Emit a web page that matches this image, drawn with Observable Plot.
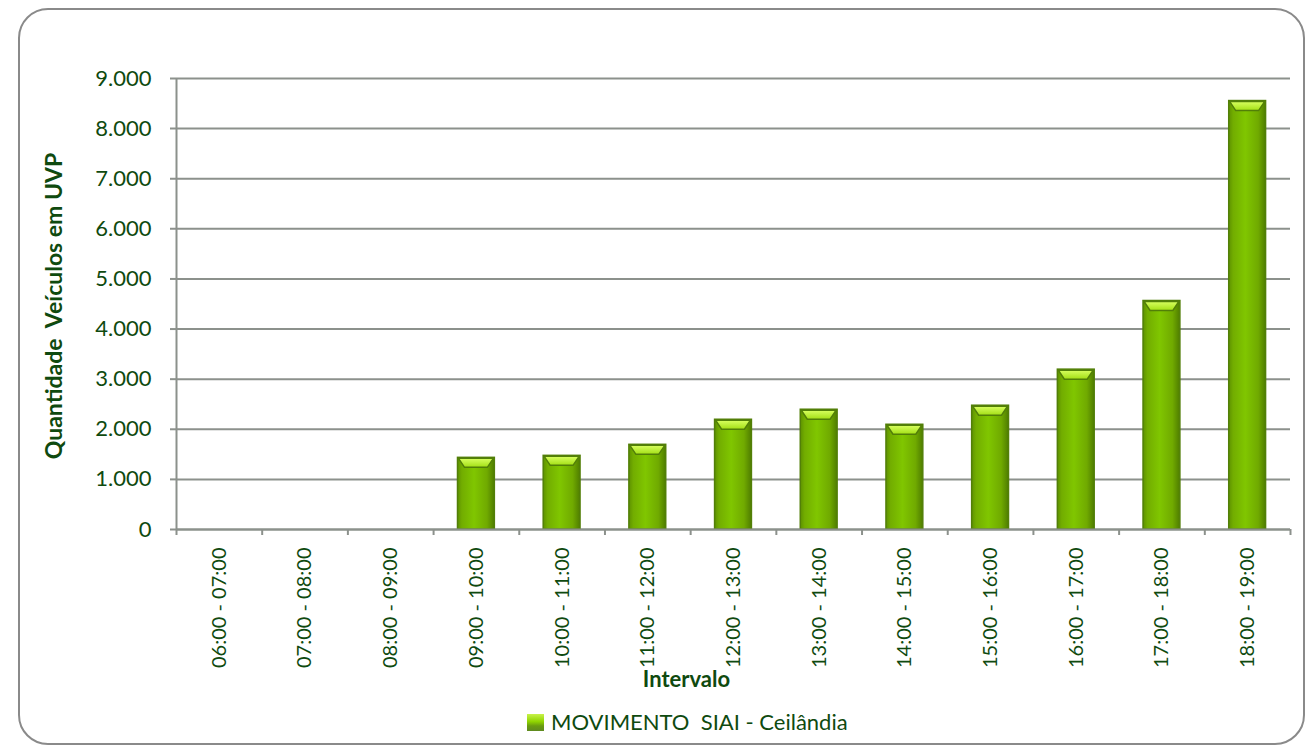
<!DOCTYPE html>
<html>
<head>
<meta charset="utf-8">
<script src="https://cdn.jsdelivr.net/npm/d3@7"></script>
<script src="https://cdn.jsdelivr.net/npm/@observablehq/plot@0.6"></script>
<style>
  html, body { margin: 0; padding: 0; background: #fff; }
  #box {
    position: absolute; left: 18px; top: 8px; width: 1283px; height: 733px;
    border: 2px solid #8a8a8a; border-radius: 30px; background: #fff; overflow: hidden;
  }
  #chart { position: absolute; left: 0; top: 0; }
  #legend {
    position: absolute; left: 507px; top: 698px; white-space: nowrap;
    font-family: Lato, "Open Sans", sans-serif; font-size: 22px; color: #0f4a0f;
  }
  #legend .sw {
    display: inline-block; width: 17px; height: 17px; vertical-align: -1px; margin-right: 7px;
    background: linear-gradient(#c8f24a 0%, #8fd400 45%, #6a9c10 70%, #5f8a20 100%);
  }
</style>
</head>
<body>
<div id="box">
  <div id="chart"></div>
  <div id="legend"><span class="sw"></span>MOVIMENTO&nbsp; SIAI - Ceilândia</div>
</div>
<script>
const intervals = ["06:00 - 07:00","07:00 - 08:00","08:00 - 09:00","09:00 - 10:00","10:00 - 11:00","11:00 - 12:00","12:00 - 13:00","13:00 - 14:00","14:00 - 15:00","15:00 - 16:00","16:00 - 17:00","17:00 - 18:00","18:00 - 19:00"];
const values = [0, 0, 0, 1430, 1470, 1690, 2190, 2390, 2090, 2470, 3190, 4560, 8550];
const yTicks = [0, 1000, 2000, 3000, 4000, 5000, 6000, 7000, 8000, 9000];
const yTitle = "Quantidade  Veículos em UVP";
const xTitle = "Intervalo";

const data = intervals.map((interval, i) => ({interval, value: values[i]}));
const ptBR = d3.formatLocale({decimal: ",", thousands: ".", grouping: [3], currency: ["R$", ""]});
const fmt = ptBR.format(",d");

const W = 1283, H = 700, ML = 156, MR = 13, MT = 68, MB = 181;
const step = (W - ML - MR) / intervals.length;
const grid = "#8c918c";
const textColor = "#0f4a0f";
const font = "Lato, 'Open Sans', sans-serif";

function bevel(index, scales, values, dims, context, next) {
  const g = next(index, scales, values, dims, context);
  d3.select(g).selectAll("rect").each(function() {
    const r = d3.select(this);
    const x = +r.attr("x"), y = +r.attr("y"), w = +r.attr("width"), h = +r.attr("height");
    if (!(h > 2)) return;
    const t = Math.min(10, h / 3);
    d3.select(g).append("polygon")
      .attr("points", `${x + 1},${y + 1} ${x + w - 1},${y + 1} ${x + w - 7},${y + t} ${x + 7},${y + t}`)
      .attr("fill", "url(#topGrad)");
  });
  return g;
}

const chart = Plot.plot({
  width: W, height: H,
  marginLeft: ML, marginRight: MR, marginTop: MT, marginBottom: MB,
  style: {fontFamily: font, fontSize: "18px", color: textColor, background: "transparent"},
  x: {type: "band", domain: intervals, paddingInner: 0.57, paddingOuter: 0.285, round: false, label: null},
  y: {domain: [0, 9000], ticks: yTicks, label: null},
  marks: [
    Plot.gridY(yTicks, {stroke: grid, strokeOpacity: 1, strokeWidth: 2}),
    Plot.barY(data, {x: "interval", y: "value", fill: "url(#barGrad)", stroke: "#527f08", strokeWidth: 1.5, render: bevel}),
    Plot.ruleY([0], {stroke: grid, strokeWidth: 2}),
    Plot.ruleX(intervals, {x: d => d, y1: 0, y2: 0, dx: step / 2, insetBottom: -6, stroke: grid, strokeWidth: 2}),
    Plot.ruleX(intervals.slice(0, 1), {x: d => d, y1: 9000, y2: 0, dx: -step / 2, insetBottom: -6, stroke: grid, strokeWidth: 2}),
    Plot.axisY({ticks: yTicks, tickFormat: fmt, tickSize: 6, tickPadding: 19, stroke: grid, strokeWidth: 2, fontSize: 22, label: null}),
    Plot.axisX({tickSize: 0, tickRotate: -90, tickPadding: 18, fontSize: 20, label: null}),
    Plot.text([yTitle], {text: d => d, frameAnchor: "left", textAnchor: "middle", lineAnchor: "middle", rotate: -90, dx: -122, dy: 2, fontSize: 23, fontWeight: "bold", fill: textColor}),
    Plot.text([xTitle], {text: d => d, frameAnchor: "bottom", textAnchor: "middle", lineAnchor: "top", dx: -47, dy: 142, fontSize: 22, fontWeight: "bold", fill: textColor})
  ]
});

const defs = d3.select(chart).insert("defs", ":first-child");
const bg = defs.append("linearGradient").attr("id", "barGrad").attr("x1", 0).attr("x2", 1).attr("y1", 0).attr("y2", 0);
[["0%", "#5e9200"], ["12%", "#72ad00"], ["45%", "#80c600"], ["80%", "#70aa00"], ["100%", "#4f7d00"]]
  .forEach(([o, c]) => bg.append("stop").attr("offset", o).attr("stop-color", c));
const tg = defs.append("linearGradient").attr("id", "topGrad").attr("x1", 0).attr("x2", 0).attr("y1", 0).attr("y2", 1);
[["0%", "#d8ff60"], ["100%", "#a2df14"]].forEach(([o, c]) => tg.append("stop").attr("offset", o).attr("stop-color", c));

document.getElementById("chart").appendChild(chart);
</script>
</body>
</html>
